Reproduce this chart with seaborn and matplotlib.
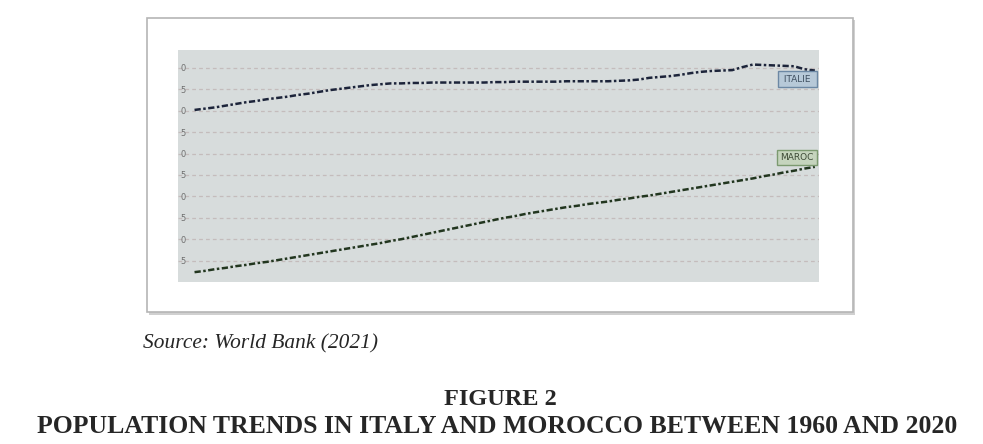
import matplotlib
matplotlib.use("Agg")
import matplotlib.pyplot as plt
from matplotlib.patches import Rectangle
import pandas as pd
import seaborn as sns

# %% data (World Bank population, millions)
years = list(range(1960, 2021))
italie = [
    50.2, 50.5, 50.8, 51.2, 51.6, 52.0, 52.3, 52.7, 53.0, 53.3,
    53.7, 54.0, 54.4, 54.8, 55.1, 55.4, 55.7, 56.0, 56.2, 56.4,
    56.4, 56.5, 56.5, 56.6, 56.6, 56.6, 56.6, 56.6, 56.6, 56.7,
    56.7, 56.8, 56.8, 56.8, 56.8, 56.8, 56.9, 56.9, 56.9, 56.9,
    56.9, 57.0, 57.1, 57.3, 57.7, 57.9, 58.1, 58.4, 58.8, 59.1,
    59.3, 59.4, 59.5, 60.2, 60.8, 60.7, 60.6, 60.5, 60.4, 59.7,
    59.4,
]
maroc = [
    12.3, 12.6, 13.0, 13.3, 13.7, 14.0, 14.4, 14.7, 15.1, 15.5,
    15.9, 16.3, 16.7, 17.1, 17.5, 17.9, 18.3, 18.7, 19.1, 19.6,
    20.0, 20.5, 21.0, 21.5, 22.0, 22.5, 23.0, 23.5, 24.0, 24.5,
    25.0, 25.4, 25.9, 26.3, 26.7, 27.1, 27.5, 27.8, 28.2, 28.5,
    28.8, 29.2, 29.5, 29.9, 30.2, 30.6, 31.0, 31.4, 31.8, 32.2,
    32.6, 33.0, 33.4, 33.8, 34.2, 34.7, 35.1, 35.6, 36.0, 36.5,
    36.9,
]
y_ticks = [15, 20, 25, 30, 35, 40, 45, 50, 55, 60]
x_ticks = [1960, 1970, 1980, 1990, 2000, 2010, 2020]

df = pd.DataFrame({"year": years, "ITALIE": italie, "MAROC": maroc})

sns.set_style("white", {"axes.facecolor": "#d7dcdc"})
plt.rcParams["font.family"] = ["DejaVu Sans"]

W, H = 983, 444
fig = plt.figure(figsize=(W / 100, H / 100), dpi=100)
fig.patch.set_facecolor("white")

# outer frame with shadow
fig.patches.append(Rectangle((149 / W, (H - 315) / H), 706 / W, 295 / H,
                             transform=fig.transFigure, facecolor="#d0d0d0",
                             edgecolor="none", zorder=-3))
fig.patches.append(Rectangle((147 / W, (H - 312) / H), 706 / W, 294 / H,
                             transform=fig.transFigure, facecolor="white",
                             edgecolor="#b5b5b5", lw=1.2, zorder=-2))

ax = fig.add_axes([178 / W, (H - 282) / H, 641 / W, 232 / H])
ax.set_zorder(1)

ax.yaxis.grid(True, color="#c4bcbc", linestyle=(0, (3, 2.5)), lw=0.9)
ax.set_axisbelow(True)

sns.lineplot(data=df, x="year", y="ITALIE", ax=ax, color="#1c243a", lw=1.8,
             dashes=False)
sns.lineplot(data=df, x="year", y="MAROC", ax=ax, color="#22361f", lw=1.8,
             dashes=False)
for line in ax.lines:
    line.set_linestyle((0, (2.5, 1.0, 1, 1.0)))

ax.set_xlim(1958.4, 2020.4)
ax.set_ylim(10, 64.2)
ax.set_xticks(x_ticks)
ax.set_xticklabels([])
ax.set_yticks(y_ticks)
ax.set_yticklabels([str(v)[-1] for v in y_ticks])
ax.tick_params(axis="y", direction="in", length=0, pad=-2, labelsize=6,
               labelcolor="#6f6f6f")
for lab in ax.get_yticklabels():
    lab.set_horizontalalignment("left")
ax.tick_params(axis="x", direction="in", length=2, width=0.6, color="#888888")
ax.set_xlabel("")
ax.set_ylabel("")
for s in ax.spines.values():
    s.set_visible(False)

ax.text(2019.9, 57.4, " ITALIE ", ha="right", va="center", fontsize=6.5,
        color="#3f4f60",
        bbox=dict(boxstyle="square,pad=0.35", fc="#b7c9d8", ec="#6c88a4", lw=1.0))
ax.text(2019.9, 39.1, "MAROC", ha="right", va="center", fontsize=6.5,
        color="#3d4a36",
        bbox=dict(boxstyle="square,pad=0.35", fc="#c5d4bd", ec="#7c9a70", lw=1.0))

fig.text(143 / W, 1 - 344 / H, "Source: World Bank (2021)", ha="left",
         va="center", fontsize=15.4, style="italic", family="Liberation Serif")
fig.text(500 / W, 1 - 399 / H, "FIGURE 2", ha="center", va="center",
         fontsize=17.5, weight="bold", family="Liberation Serif")
fig.text(497 / W, 1 - 426 / H,
         "POPULATION TRENDS IN ITALY AND MOROCCO BETWEEN 1960 AND 2020",
         ha="center", va="center", fontsize=18.5, weight="bold",
         family="Liberation Serif")

fig.savefig("out.png", dpi=100)
